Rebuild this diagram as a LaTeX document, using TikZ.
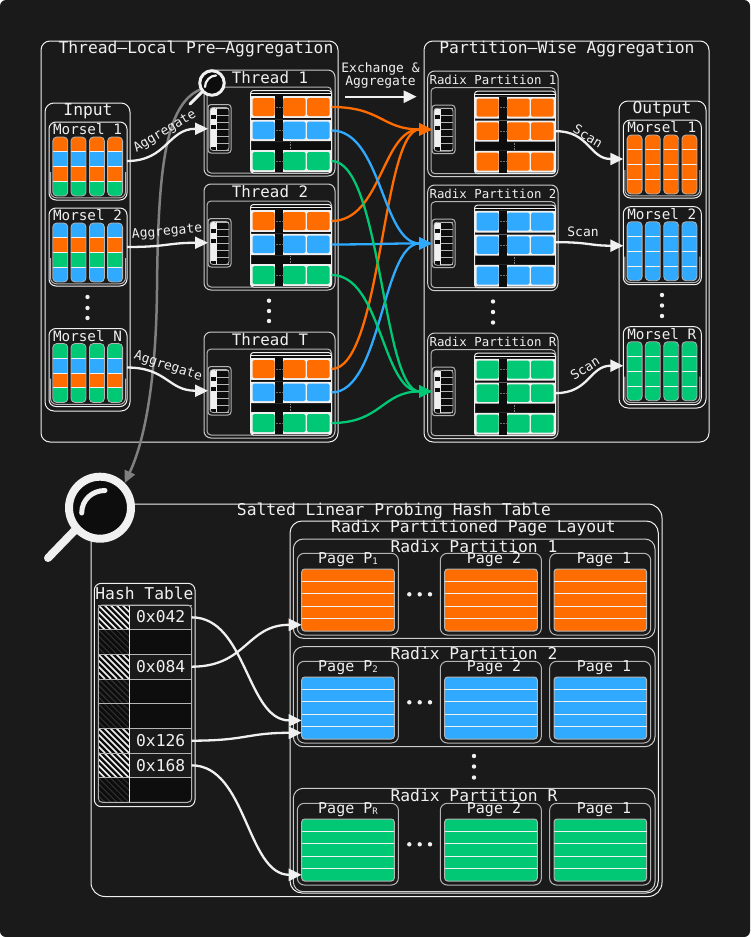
\documentclass[tikz,border=0pt]{standalone}
\usepackage{fontspec}
\setmainfont{DejaVu Sans Mono}
\usetikzlibrary{arrows.meta}
\pgfdeclarelayer{edgelayer}
\pgfdeclarelayer{nodelayer}
\pgfdeclarelayer{lenslayer}
\pgfsetlayers{nodelayer,lenslayer,edgelayer,main}
\definecolor{bgdark}{HTML}{1A1A1A}
\definecolor{cellK}{HTML}{0D0D0D}
\definecolor{cellO}{HTML}{FF6D00}
\definecolor{cellB}{HTML}{2FAAFF}
\definecolor{cellG}{HTML}{00C875}
\definecolor{edgeW}{HTML}{F0F0F0}
\definecolor{edgeD}{HTML}{B4B4B4}
\definecolor{lensgrey}{HTML}{808080}
\tikzstyle{boxline}=[draw=edgeW,line width=1pt]
\tikzstyle{softline}=[draw=edgeD,line width=1pt]
\tikzstyle{bigtext}=[text=edgeW,inner sep=0pt,font=\fontsize{16.3}{18}\selectfont]
\tikzstyle{midtext}=[text=edgeW,inner sep=0pt,font=\fontsize{15}{17}\selectfont]
\tikzstyle{morseltext}=[text=edgeW,inner sep=0pt,font=\fontsize{14.3}{16}\selectfont]
\tikzstyle{smalltext}=[text=edgeW,inner sep=0pt,font=\fontsize{13}{15}\selectfont]
\tikzstyle{radixtext}=[text=edgeW,inner sep=0pt,font=\fontsize{12.4}{14}\selectfont]
\tikzstyle{dot}=[circle,fill=edgeW,inner sep=0pt,minimum size=4.4pt]
\tikzstyle{flow}=[line width=2.3pt,-{Triangle[length=13pt,width=12pt]}]
\tikzstyle{lens}=[circle,draw=edgeW,fill=cellK,inner sep=0pt]
\tikzset{bow/.style={in=180,out=0,out distance=#1,in distance=#1}}
% box from its corners, in reference pixels
\newcommand{\pxbox}[6][]{%
	\pgfmathsetmacro{\pxw}{#5-(#3)}\pgfmathsetmacro{\pxh}{#6-(#4)}%
	\pgfmathsetmacro{\pxcx}{(#3+#5)/2}\pgfmathsetmacro{\pxcy}{(#4+#6)/2}%
	\node [rectangle,outer sep=0pt,inner sep=0pt,minimum width=\pxw pt,minimum height=\pxh pt,#1] (#2) at (\pxcx,\pxcy) {};}
\newcommand{\pgsub}[1]{\raisebox{-1pt}{\fontsize{9}{9}\selectfont #1}}
% name, x, y, title, colours
\newcommand{\morsel}[5]{%
	\begin{scope}[shift={(#2,#3)}]
		\pxbox[style=boxline,rounded corners=7pt]{#1}{0}{0}{78}{78}
		\draw [style=softline,rounded corners=6pt] (1.5,50) -- (1.5,75.8) -- (76.5,75.8) -- (76.5,50);
		\node [style=morseltext] (#1t) at (38.5,7.5) {#4};
		\foreach \cx in {3.8,22,40.4,58.6} {
			\begin{scope}
				\clip [rounded corners=4pt] (\cx,15) rectangle ++(15,59);
				\foreach \c [count=\i from 0] in {#5}
					\fill [\c] (\cx,15+14.75*\i) rectangle ++(15,14.75);
				\foreach \i in {1,2,3}
					\draw [edgeW!80!white,line width=0.9pt] (\cx,15+14.75*\i) -- ++(15,0);
			\end{scope}
			\draw [edgeD,line width=0.8pt,rounded corners=4pt] (\cx,15) rectangle ++(15,59);
		}
	\end{scope}}
% name, x, y, three row colours
\newcommand{\pagestack}[6]{%
	\begin{scope}[shift={(#2,#3)}]
		\pxbox[style=boxline,draw=edgeD,rounded corners=4pt]{#1i}{0}{0}{124.5}{86}
		\pxbox[style=softline,rounded corners=3pt]{#1h}{1}{17.5}{24}{66}
		\fill [cellK,rounded corners=3pt] (3,20.5) rectangle (22,63.5);
		\fill [edgeW,rounded corners=2pt] (3,21) rectangle (9.5,63);
		\foreach \b in {27.5,38,59.5}
			\fill [cellK] (3.5,\b) rectangle (8.5,\b+4);
		\foreach \b in {0,...,6} {
			\draw [edgeW!75!black,line width=0.7pt] (9.5,21+7*\b) -- (22,21+7*\b);
		}
		\draw [edgeW,line width=0.8pt] (9.5,21) -- (9.5,63);
		\draw [edgeD,line width=0.8pt,rounded corners=3pt] (3,20.5) rectangle (22,63.5);
		\pxbox[style=boxline,fill=cellK,rounded corners=3pt]{#1s}{43.5}{3.5}{124.5}{86}
		\draw [edgeW,line width=0.9pt] (44,6.8) -- (124,6.8);
		\foreach \r/\ya/\yb/\c in {1/11/29/#4,2/34.7/52.2/#5,3/65/83/#6} {
			\pxbox[fill=edgeW,rounded corners=1pt]{#1r\r}{43.5}{\ya-1.8}{124.5}{\yb+1.8}
			\fill [cellK] (67.7,\ya-1.8) rectangle (76,\yb+1.8);
			\fill [\c,rounded corners=1.5pt] (45.5,\ya) rectangle (67.7,\yb);
			\fill [\c,rounded corners=1.5pt] (76,\ya) rectangle (98.5,\yb);
			\fill [\c,rounded corners=1.5pt] (100,\ya) rectangle (122.5,\yb);
			\draw [edgeD!60!black,line width=0.6pt,densely dotted] (68.5,\ya/2+\yb/2) -- (75.5,\ya/2+\yb/2);
		}
		\draw [edgeD!70!black,line width=0.6pt,densely dotted] (83.5,55) -- (83.5,62);
	\end{scope}}
% name, top, title
\newcommand{\threadblock}[3]{%
	\pxbox[style=boxline,draw=edgeW!85!black,rounded corners=7pt]{#1}{204}{#2}{335}{#2+106}
	\node [style=bigtext,font=\fontsize{15.8}{18}\selectfont] (#1t) at (270,#2+7.7) {#3};
	\pagestack{#1}{207}{#2+17}{cellO}{cellB}{cellG}}
% name, top, title, colour
\newcommand{\radixblock}[4]{%
	\pxbox[style=boxline,draw=edgeW!85!black,rounded corners=7pt]{#1}{427.7}{#2}{558}{#2+105.7}
	\node [style=radixtext] (#1t) at (493,#2+9) {#3};
	\pagestack{#1}{431}{#2+16.7}{#4}{#4}{#4}}
% name, x of the data block, top of the page box, colour, title, x of the title
\newcommand{\pagebox}[6]{%
	\pxbox[style=softline,rounded corners=7pt]{#1}{#2-4.4}{#3}{#2+96.7}{#3+81.7}
	\node [style=midtext] (#1t) at (#6,#3+6.7) {#5};
	\pxbox[style=softline,draw=edgeD,fill=#4,rounded corners=3pt]{#1d}{#2}{#3+15.7}{#2+92.6}{#3+77.7}
	\foreach \r in {0,...,4}
		\pxbox[draw=none]{#1r\r}{#2}{#3+15.7+12.4*\r}{#2+92.6}{#3+15.7+12.4*\r+12.4}
	\foreach \r in {1,...,4}
		\draw [edgeW!90!white,line width=0.9pt] (#2,#3+15.7+12.4*\r) -- (#2+92.6,#3+15.7+12.4*\r);}
% name, top, bottom, page top, colour, title, title of the last page
\newcommand{\radixrow}[7]{%
	\pxbox[style=softline,draw=edgeW!85!black,rounded corners=10pt]{#1}{293.3}{#2}{655}{#3}
	\node [style=bigtext] (#1t) at (474,#2+7) {#6};
	\pagebox{#1a}{301.7}{#4}{#5}{#7}{348}
	\pagebox{#1b}{444.7}{#4}{#5}{Page 2}{494}
	\pagebox{#1c}{554}{#4}{#5}{Page 1}{604}
	\foreach \i/\dx in {1/409.3,2/419.7,3/430}
		\node [style=dot] (#1dot\i) at (\dx,#4+41) {};}

\begin{document}
\begin{tikzpicture}[x=1pt,y=-1pt]
	\useasboundingbox (0,0) rectangle (750,937);
	\begin{pgfonlayer}{nodelayer}
		\fill [white] (0,0) rectangle (750,937);
		\fill [bgdark,rounded corners=6pt] (0,0) rectangle (750,937);
		% thread-local side
		\pxbox[style=boxline,rounded corners=9pt]{prebox}{41}{41}{338}{442}
		\node [style=bigtext] (pretitle) at (196,49.5) {Thread–Local Pre–Aggregation};
		\pxbox[style=boxline,rounded corners=9pt]{inbox}{45}{103}{130}{411}
		\node [style=bigtext] (intitle) at (88,111.5) {Input};
		\morsel{inm1}{49}{122}{Morsel 1}{cellO,cellB,cellO,cellG}
		\morsel{inm2}{49}{208}{Morsel 2}{cellB,cellO,cellG,cellB}
		\morsel{inmn}{49}{328.5}{Morsel N}{cellG,cellB,cellO,cellG}
		\foreach \i/\y in {1/297,2/308,3/318}
			\node [style=dot] (indot\i) at (87.5,\y) {};
		\threadblock{t1}{70}{Thread 1}
		\threadblock{t2}{184}{Thread 2}
		\threadblock{tt}{332}{Thread T}
		\foreach \i/\y in {1/300.7,2/311,3/321}
			\node [style=dot] (tdot\i) at (269,\y) {};
		% partition side
		\pxbox[style=boxline,rounded corners=9pt]{partbox}{424}{41}{709}{442}
		\node [style=bigtext] (parttitle) at (567,49.5) {Partition–Wise Aggregation};
		\radixblock{r1}{71}{Radix Partition 1}{cellO}
		\radixblock{r2}{185}{Radix Partition 2}{cellB}
		\radixblock{rr}{333}{Radix Partition R}{cellG}
		\foreach \i/\y in {1/301.5,2/312,3/322.5}
			\node [style=dot] (rdot\i) at (493,\y) {};
		\pxbox[style=boxline,rounded corners=9pt]{outbox}{619}{101}{706}{408}
		\node [style=bigtext] (outtitle) at (662,109.5) {Output};
		\morsel{outm1}{623.3}{120}{Morsel 1}{cellO,cellO,cellO,cellO}
		\morsel{outm2}{623.3}{206.7}{Morsel 2}{cellB,cellB,cellB,cellB}
		\morsel{outmr}{623.3}{326.7}{Morsel R}{cellG,cellG,cellG,cellG}
		\foreach \i/\y in {1/295,2/305.5,3/316}
			\node [style=dot] (odot\i) at (662,\y) {};
		\node [style=smalltext] (extitle1) at (380.5,69.3) {Exchange \&};
		\node [style=smalltext] (extitle2) at (380.5,82.3) {Aggregate};
		\coordinate (exfrom) at (345,96.7);
		\coordinate (exto) at (416.7,96.7);
		% hash table side
		\pxbox[style=boxline,rounded corners=14pt]{hashbox}{91}{504}{662}{896.5}
		\node [style=bigtext] (hashtitle) at (394,511) {Salted Linear Probing Hash Table};
		\pxbox[style=boxline,rounded corners=12pt]{layoutbox}{290}{521}{658.3}{893}
		\node [style=bigtext] (layouttitle) at (473.5,528) {Radix Partitioned Page Layout};
		\radixrow{p1}{539}{638.3}{553.3}{cellO}{Radix Partition 1}{Page P\pgsub{1}}
		\radixrow{p2}{646.7}{746.7}{661.3}{cellB}{Radix Partition 2}{Page P\pgsub{2}}
		\radixrow{pr}{788.3}{891.7}{803.3}{cellG}{Radix Partition R}{Page P\pgsub{R}}
		\foreach \i/\y in {1/756,2/766.5,3/777.5}
			\node [style=dot] (pdot\i) at (474,\y) {};
		\pxbox[style=boxline,rounded corners=7pt]{tablebox}{94.3}{583.3}{195}{806.7}
		\node [style=bigtext] (tabletitle) at (144.5,593.5) {Hash Table};
		\pxbox[fill=cellK,rounded corners=4pt]{tableinner}{98.3}{605}{191.7}{802.3}
		\foreach \r in {0,...,7} {
			\pgfmathsetmacro{\rowtop}{605+24.67*\r}
			\pgfmathtruncatemacro{\hatch}{(\r==0||\r==2||\r==5||\r==6)?1:0}
			\begin{scope}
				\clip (98.3,\rowtop) rectangle (129.3,\rowtop+24.67);
				\foreach \d in {-24,-18,...,30} {
					\ifnum\hatch=1
						\draw [edgeW,line width=1.6pt] (98.3+\d,\rowtop) -- ++(24.67,24.67);
					\else
						\draw [edgeW!20!black,line width=1.2pt] (98.3+\d,\rowtop) -- ++(24.67,24.67);
					\fi
				}
			\end{scope}
			\ifnum\hatch=1
				\pxbox[fill=bgdark]{tabler\r}{129.3}{\rowtop}{191.7}{\rowtop+24.67}
			\else
				\pxbox[fill=cellK]{tabler\r}{129.3}{\rowtop}{191.7}{\rowtop+24.67}
			\fi
			\draw [edgeD,line width=0.9pt] (98.3,\rowtop) -- (191.7,\rowtop);
		}
		\draw [edgeW,line width=0.9pt] (129.3,605) -- (129.3,802.3);
		\draw [style=softline,rounded corners=4pt] (98.3,605) rectangle (191.7,802.3);
		\node [style=bigtext] (key0) at (160.7,617) {0x042};
		\node [style=bigtext] (key2) at (160.7,666.5) {0x084};
		\node [style=bigtext] (key5) at (160.7,741) {0x126};
		\node [style=bigtext] (key6) at (160.7,765.5) {0x168};
	\end{pgfonlayer}
	\begin{pgfonlayer}{edgelayer}
		\draw [style=flow,draw=edgeW] [bow=40pt] (inm1.east) to (t1h.west);
		\draw [style=flow,draw=edgeW] [bow=40pt] (inm2.east) to (t2h.west);
		\draw [style=flow,draw=edgeW] [bow=40pt] (inmn.east) to (tth.west);
		\node [style=smalltext,rotate=31] (agg1) at (165,131.5) {Aggregate};
		\node [style=smalltext,rotate=5] (agg2) at (167,232) {Aggregate};
		\node [style=smalltext,rotate=-18] (agg3) at (168,366.5) {Aggregate};
		\draw [style=flow,draw=edgeW] (exfrom) -- (exto);
		\draw [style=flow,draw=cellO] [bow=50pt] (t1r1.east) to (r1h.west);
		\draw [style=flow,draw=cellO] [bow=50pt] (t2r1.east) to (r1h.west);
		\draw [style=flow,draw=cellO] [bow=50pt] (ttr1.east) to (r1h.west);
		\draw [style=flow,draw=cellB] [bow=50pt] (t1r2.east) to (r2h.west);
		\draw [style=flow,draw=cellB] [bow=50pt] (t2r2.east) to (r2h.west);
		\draw [style=flow,draw=cellB] [bow=50pt] (ttr2.east) to (r2h.west);
		\draw [style=flow,draw=cellG] [bow=50pt] (t1r3.east) to (rrh.west);
		\draw [style=flow,draw=cellG] [bow=50pt] (t2r3.east) to (rrh.west);
		\draw [style=flow,draw=cellG] [bow=50pt] (ttr3.east) to (rrh.west);
		\draw [style=flow,draw=edgeW] [bow=34pt] (r1r2.east) to (outm1.west);
		\draw [style=flow,draw=edgeW] [bow=34pt] ([yshift=3pt]r2r2.east) to (outm2.west);
		\draw [style=flow,draw=edgeW] [bow=34pt] (rrr2.east) to (outmr.west);
		\node [style=smalltext,rotate=-31] (scan1) at (588,136) {Scan};
		\node [style=smalltext] (scan2) at (583,232) {Scan};
		\node [style=smalltext,rotate=32] (scan3) at (585,368) {Scan};
		\draw [style=flow,draw=edgeW] [bow=55pt] (tabler0.east) to (p2ar3.west);
		\draw [style=flow,draw=edgeW] [bow=55pt] (tabler2.east) to (p1ar4.west);
		\draw [style=flow,draw=edgeW] [bow=55pt] (tabler5.east) to (p2ar4.west);
		\draw [style=flow,draw=edgeW] [bow=55pt] (tabler6.east) to (prar4.west);
	\end{pgfonlayer}
	% the two lenses
	\node [style=lens,line width=3pt,minimum size=24.5pt] (lenssmall) at (212,83) {};
	\node [style=lens,line width=8pt,minimum size=62pt] (lensbig) at (100,507.7) {};
	\coordinate (handlesmall) at (190,104);
	\coordinate (handlebig) at (48,558);
	\draw [edgeW,line width=3pt,line cap=round] (lenssmall.222) -- (handlesmall);
	\draw [edgeW,line width=8pt,line cap=round] (lensbig.222) -- (handlebig);
	\draw [edgeW,line width=2.2pt,line cap=round] (205,87) .. controls (205,81) and (210,75.5) .. (216,75.5);
	\draw [edgeW,line width=5pt,line cap=round] (81.7,513) .. controls (81.7,500) and (92,490.5) .. (105,490.5);
	\begin{pgfonlayer}{lenslayer}
		\draw [draw=lensgrey,line width=2.5pt,-{Triangle[length=12pt,width=11pt]}] (lenssmall.209) .. controls (165,105) and (158,170) .. (157,290) .. controls (156,380) and (145,440) .. (lensbig.45);
	\end{pgfonlayer}
\end{tikzpicture}
\end{document}
